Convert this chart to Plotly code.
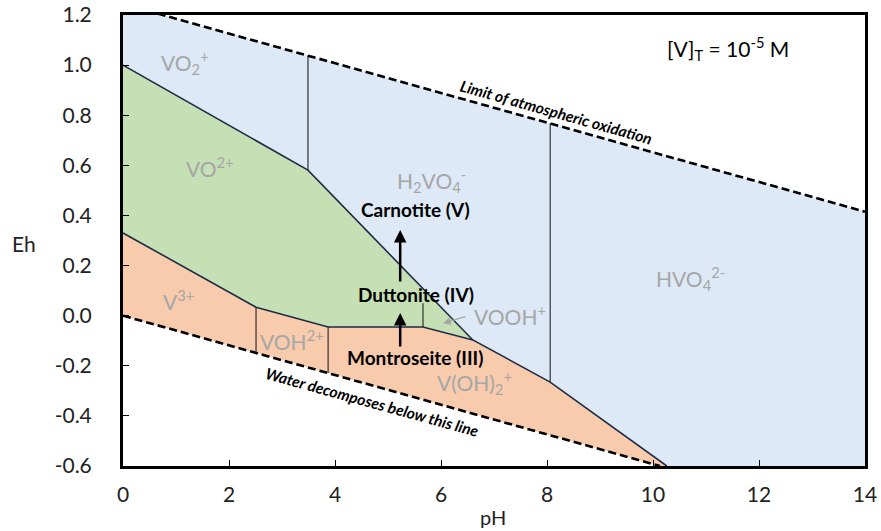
import plotly.graph_objects as go

# ---- data (pH, Eh) ----
o2_ph = [0.0, 0.75, 14.0]          # limit of atmospheric oxidation
o2_eh = [1.245, 1.2, 0.415]
h2_ph = [0.0, 10.13]               # water decomposition line
h2_eh = [0.0, -0.6]

# upper boundary of V(IV)/V(III) fields against V(V) field
upper_ph = [0.0, 3.49, 6.6, 8.06, 10.26]
upper_eh = [1.0, 0.581, -0.097, -0.265, -0.6]
# boundary V(IV) / V(III)
mid_ph = [0.0, 2.51, 3.87, 5.66, 6.6]
mid_eh = [0.33, 0.034, -0.045, -0.045, -0.097]

# vertical boundaries: (pH, Eh_bottom, Eh_top)
vert_ph = [3.49, 8.06, 2.51, 3.87, 5.66]
vert_lo = [0.581, -0.265, -0.149, -0.229, -0.045]
vert_hi = [1.038, 0.767, 0.034, -0.045, 0.05]

species = ["VO<sub>2</sub><sup>+</sup>", "VO<sup>2+</sup>", "H<sub>2</sub>VO<sub>4</sub><sup>-</sup>",
           "HVO<sub>4</sub><sup>2-</sup>", "V<sup>3+</sup>", "VOH<sup>2+</sup>",
           "V(OH)<sub>2</sub><sup>+</sup>", "VOOH<sup>+</sup>"]
species_ph = [1.17, 1.64, 5.83, 10.7, 1.04, 3.19, 6.64, 7.30]
species_eh = [1.012, 0.593, 0.541, 0.148, 0.062, -0.097, -0.265, 0.003]

minerals = ["Carnotite (V)", "Duttonite (IV)", "Montroseite (III)"]
minerals_ph = [5.51, 5.53, 5.51]
minerals_eh = [0.422, 0.083, -0.165]

x_ticks = [0, 2, 4, 6, 8, 10, 12, 14]
y_ticks = [-0.6, -0.4, -0.2, 0.0, 0.2, 0.4, 0.6, 0.8, 1.0, 1.2]
y_ticktext = ["-0.6", "-0.4", "-0.2", "0.0", "0.2", "0.4", "0.6", "0.8", "1.0", "1.2"]

BLUE = "#DDE9F6"
GREEN = "#C5E0B4"
ORANGE = "#F8CBAD"
NAVY = "#1F2B45"
GRAY = "#A6A6A6"
FONT = "Lato"

fig = go.Figure()

# blue V(V) field
blue_x = [0.0, o2_ph[1], o2_ph[2], 14.0] + upper_ph[::-1] + [0.0]
blue_y = [1.2, o2_eh[1], o2_eh[2], -0.6] + upper_eh[::-1] + [1.2]
fig.add_trace(go.Scatter(x=blue_x, y=blue_y, fill="toself", fillcolor=BLUE,
                         mode="lines", line=dict(width=0), hoverinfo="skip"))

# green V(IV) field
green_x = upper_ph[:3] + mid_ph[::-1]
green_y = upper_eh[:3] + mid_eh[::-1]
fig.add_trace(go.Scatter(x=green_x, y=green_y, fill="toself", fillcolor=GREEN,
                         mode="lines", line=dict(width=0), hoverinfo="skip"))

# orange V(III) field
orange_x = mid_ph + upper_ph[3:] + h2_ph[::-1]
orange_y = mid_eh + upper_eh[3:] + h2_eh[::-1]
fig.add_trace(go.Scatter(x=orange_x, y=orange_y, fill="toself", fillcolor=ORANGE,
                         mode="lines", line=dict(width=0), hoverinfo="skip"))

# boundaries
fig.add_trace(go.Scatter(x=upper_ph, y=upper_eh, mode="lines",
                         line=dict(color=NAVY, width=1.6), hoverinfo="skip"))
fig.add_trace(go.Scatter(x=mid_ph, y=mid_eh, mode="lines",
                         line=dict(color=NAVY, width=1.6), hoverinfo="skip"))
for p, lo, hi in zip(vert_ph, vert_lo, vert_hi):
    fig.add_trace(go.Scatter(x=[p, p], y=[lo, hi], mode="lines",
                             line=dict(color="#222222", width=1.1), hoverinfo="skip"))

# dashed stability limits of water
fig.add_trace(go.Scatter(x=o2_ph, y=o2_eh, mode="lines",
                         line=dict(color="black", width=2.6, dash="8px,4px"), hoverinfo="skip"))
fig.add_trace(go.Scatter(x=h2_ph, y=h2_eh, mode="lines",
                         line=dict(color="black", width=2.6, dash="8px,4px"), hoverinfo="skip"))

ann = []
for t, x, y in zip(species, species_ph, species_eh):
    ann.append(dict(x=x, y=y, text=t, showarrow=False, xanchor="center", yanchor="middle",
                    font=dict(family=FONT, size=21, color=GRAY)))
for t, x, y in zip(minerals, minerals_ph, minerals_eh):
    ann.append(dict(x=x, y=y, text="<b>" + t + "</b>", showarrow=False,
                    xanchor="center", yanchor="middle",
                    font=dict(family=FONT, size=19, color="black")))

# arrows between minerals
ann.append(dict(x=5.23, y=0.342, ax=5.23, ay=0.130, axref="x", ayref="y", text="",
                showarrow=True, arrowhead=2, arrowsize=1, arrowwidth=2.5, arrowcolor="black"))
ann.append(dict(x=5.23, y=0.011, ax=5.23, ay=-0.129, axref="x", ayref="y", text="",
                showarrow=True, arrowhead=2, arrowsize=1, arrowwidth=2.5, arrowcolor="black"))
# VOOH+ pointer
ann.append(dict(x=6.04, y=-0.030, ax=6.49, ay=-0.002, axref="x", ayref="y", text="",
                showarrow=True, arrowhead=2, arrowsize=1, arrowwidth=1.5, arrowcolor=GRAY))

ann.append(dict(x=8.17, y=0.813, text="<b><i>Limit of atmospheric oxidation</i></b>",
                showarrow=False, textangle=15.7, xanchor="center", yanchor="middle",
                font=dict(family=FONT, size=15.5, color="black")))
ann.append(dict(x=4.70, y=-0.345, text="<b><i>Water decomposes below this line</i></b>",
                showarrow=False, textangle=15.4, xanchor="center", yanchor="middle",
                font=dict(family=FONT, size=15.5, color="black")))
ann.append(dict(x=11.42, y=1.068, text="[V]<sub>T</sub> = 10<sup>-5</sup> M",
                showarrow=False, xanchor="center", yanchor="middle",
                font=dict(family=FONT, size=21, color="black")))

# axis titles
ann.append(dict(xref="paper", yref="paper", x=(24 - 123) / 742, y=(466 - 243) / 451,
                xanchor="center", yanchor="middle",
                text="Eh", showarrow=False, font=dict(family=FONT, size=21, color="#222222")))
ann.append(dict(xref="paper", yref="paper", x=(493 - 123) / 742, y=(466 - 517) / 451,
                xanchor="center", yanchor="middle",
                text="pH", showarrow=False, font=dict(family=FONT, size=20, color="#222222")))

fig.update_layout(
    width=881, height=531,
    margin=dict(l=123, r=16, t=15, b=65, autoexpand=False),
    paper_bgcolor="white", plot_bgcolor="white",
    showlegend=False,
    annotations=ann,
    font=dict(family=FONT, size=16, color="#222222"),
)
fig.update_xaxes(range=[0, 14], tickvals=x_ticks, showgrid=False, zeroline=False,
                 automargin=False, ticklabeloverflow="allow",
                 showline=True, linecolor="black", linewidth=3, mirror=True,
                 ticks="inside", ticklen=6, tickcolor="black", tickwidth=1,
                 ticklabelstandoff=8,
                 tickfont=dict(family=FONT, size=21, color="#222222"))
fig.update_yaxes(range=[-0.6, 1.2], tickvals=y_ticks, ticktext=y_ticktext,
                 showgrid=False, zeroline=False, automargin=False,
                 ticklabeloverflow="allow",
                 showline=True, linecolor="black", linewidth=3, mirror=True,
                 ticks="inside", ticklen=6, tickcolor="black", tickwidth=1,
                 ticklabelstandoff=24,
                 tickfont=dict(family=FONT, size=21, color="#222222"))

# remove the default page margin so the 881x531 figure fills the window exactly
fig.write_html("out.html", config={"displayModeBar": False},
               post_script="document.body.style.margin='0';")
